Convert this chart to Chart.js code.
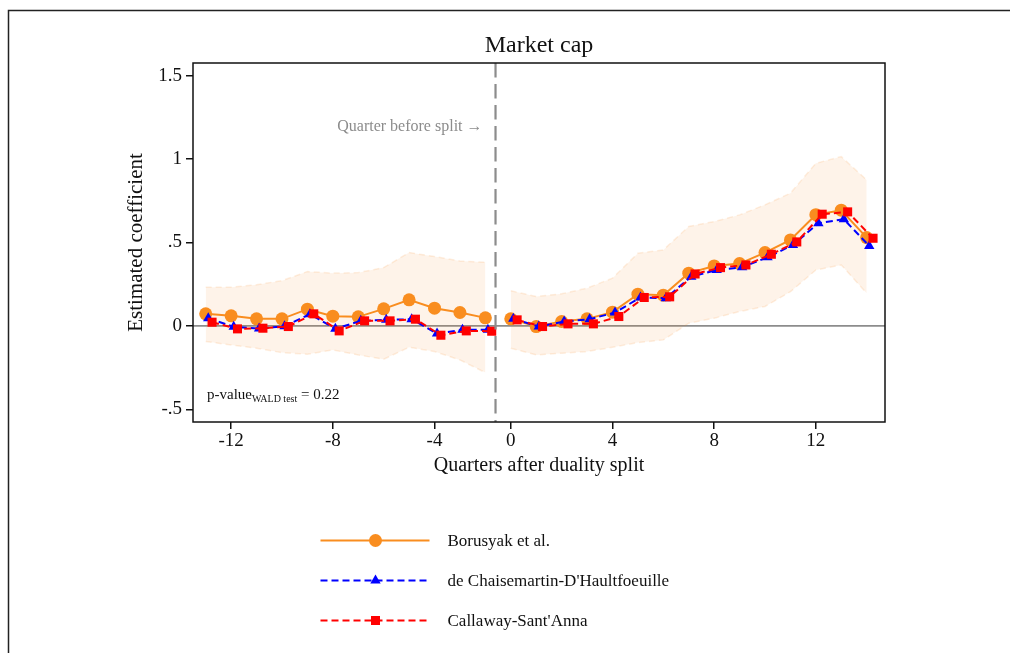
<!DOCTYPE html>
<html>
<head>
<meta charset="utf-8">
<script src="https://cdn.jsdelivr.net/npm/chart.js@4/dist/chart.umd.min.js"></script>
<style>
  body { margin: 0; background: #fff; }
  #wrap { width: 1010px; height: 653px; position: relative; }
</style>
</head>
<body>
<div id="wrap"><canvas id="eventChart"></canvas></div>
<script>
// relative quarters (quarter -1 is the reference period and is left out)
const preQuarters = [-13, -12, -11, -10, -9, -8, -7, -6, -5, -4, -3, -2];
const postQuarters = [0, 1, 2, 3, 4, 5, 6, 7, 8, 9, 10, 11, 12, 13, 14];
const tickQuarters = [-12, -8, -4, 0, 4, 8, 12];
const yTicks = [-0.5, 0, 0.5, 1, 1.5];

// Borusyak et al.
const borusyakPre = [0.072, 0.060, 0.042, 0.042, 0.100, 0.058, 0.054, 0.102, 0.156, 0.106, 0.080, 0.048];
const borusyakPost = [0.042, -0.004, 0.026, 0.042, 0.082, 0.190, 0.184, 0.316, 0.359, 0.373, 0.439, 0.515, 0.666, 0.693, 0.529];
// confidence band of Borusyak et al.
const upperPre = [0.232, 0.232, 0.246, 0.271, 0.325, 0.316, 0.319, 0.349, 0.439, 0.415, 0.389, 0.381];
const lowerPre = [-0.094, -0.114, -0.134, -0.160, -0.170, -0.144, -0.174, -0.200, -0.128, -0.154, -0.204, -0.280];
const upperPost = [0.210, 0.176, 0.192, 0.226, 0.286, 0.435, 0.455, 0.595, 0.625, 0.665, 0.725, 0.795, 0.974, 1.014, 0.874];
const lowerPost = [-0.134, -0.174, -0.164, -0.154, -0.128, -0.100, -0.084, 0.016, 0.046, 0.086, 0.116, 0.205, 0.335, 0.365, 0.196];
// de Chaisemartin-D'Haultfoeuille
const dcdhPre = [0.046, -0.006, -0.016, -0.002, 0.070, -0.018, 0.030, 0.036, 0.040, -0.046, -0.024, -0.024];
const dcdhPost = [0.042, -0.004, 0.026, 0.040, 0.080, 0.170, 0.166, 0.295, 0.335, 0.351, 0.411, 0.485, 0.615, 0.639, 0.479];
// Callaway-Sant'Anna
const csPre = [0.022, -0.018, -0.014, -0.004, 0.072, -0.030, 0.030, 0.030, 0.040, -0.056, -0.030, -0.032];
const csPost = [0.036, -0.004, 0.012, 0.012, 0.056, 0.170, 0.174, 0.311, 0.349, 0.365, 0.429, 0.503, 0.669, 0.683, 0.525];

const quarters = preQuarters.concat(postQuarters);
const splitPos = 11.4;   // where the "quarter before split" line sits on the index axis
const serif = "'Liberation Serif', 'DejaVu Serif', serif";
const orange = '#f98d1f';

// pre and post pieces on one index axis, with a break between them
function series(pre, post, shift) {
    const pts = pre.map((v, i) => ({ x: i + shift, y: v }));
    pts.push({ x: pre.length - 0.5 + shift, y: null });
    post.forEach((v, i) => pts.push({ x: pre.length + i + shift, y: v }));
    return pts;
}

function marker(ctx, style, x, y, r, color) {
    ctx.save();
    ctx.setLineDash([]);
    ctx.fillStyle = color;
    ctx.beginPath();
    if (style === 'circle') {
        ctx.arc(x, y, r, 0, Math.PI * 2);
    } else if (style === 'triangle') {
        ctx.moveTo(x, y - r);
        ctx.lineTo(x + r * 0.866, y + r * 0.5);
        ctx.lineTo(x - r * 0.866, y + r * 0.5);
        ctx.closePath();
    } else {
        const s = r * Math.SQRT1_2;
        ctx.rect(x - s, y - s, 2 * s, 2 * s);
    }
    ctx.fill();
    ctx.restore();
}

const legendItems = [
    { label: 'Borusyak et al.', color: orange, dash: [], style: 'circle', r: 6.5 },
    { label: "de Chaisemartin-D'Haultfoeuille", color: '#0000ff', dash: [7, 4], style: 'triangle', r: 6 },
    { label: "Callaway-Sant'Anna", color: '#ff0000', dash: [7, 4], style: 'rect', r: 6.4 }
];

const decor = {
    id: 'decor',
    beforeDraw(chart) {
        const ctx = chart.ctx;
        ctx.save();
        ctx.fillStyle = '#fff';
        ctx.fillRect(0, 0, chart.width, chart.height);
        ctx.strokeStyle = '#222';
        ctx.lineWidth = 1.5;
        ctx.beginPath();
        ctx.moveTo(8.5, chart.height);
        ctx.lineTo(8.5, 10.5);
        ctx.lineTo(chart.width, 10.5);
        ctx.stroke();
        ctx.restore();
    },
    beforeDatasetsDraw(chart) {
        const ctx = chart.ctx, a = chart.chartArea;
        const y0 = chart.scales.y.getPixelForValue(0);
        ctx.save();
        ctx.strokeStyle = '#8c8c8c';
        ctx.lineWidth = 1.6;
        ctx.beginPath();
        ctx.moveTo(a.left, y0);
        ctx.lineTo(a.right, y0);
        ctx.stroke();
        ctx.restore();
    },
    afterDatasetsDraw(chart) {
        const ctx = chart.ctx, a = chart.chartArea;
        const xs = chart.scales.x.getPixelForValue(splitPos);
        ctx.save();
        // quarter before split
        ctx.strokeStyle = '#8c8c8c';
        ctx.lineWidth = 2.2;
        ctx.setLineDash([14.5, 6.5]);
        ctx.beginPath();
        ctx.moveTo(xs, a.top);
        ctx.lineTo(xs, a.bottom);
        ctx.stroke();
        ctx.setLineDash([]);
        ctx.fillStyle = '#8c8c8c';
        ctx.font = '16px ' + serif;
        ctx.textAlign = 'right';
        ctx.textBaseline = 'middle';
        ctx.fillText('Quarter before split \u2192', xs - 13, 127);

        // plot box
        ctx.strokeStyle = '#111';
        ctx.lineWidth = 1.5;
        ctx.strokeRect(a.left, a.top, a.right - a.left, a.bottom - a.top);

        // wald test note
        ctx.fillStyle = '#111';
        ctx.textAlign = 'left';
        ctx.textBaseline = 'alphabetic';
        let px = a.left + 14;
        ctx.font = '15px ' + serif;
        ctx.fillText('p-value', px, 399);
        px += ctx.measureText('p-value').width;
        ctx.font = '10px ' + serif;
        ctx.fillText('WALD test', px, 402);
        px += ctx.measureText('WALD test').width;
        ctx.font = '15px ' + serif;
        ctx.fillText(' = 0.22', px, 399);

        // legend
        legendItems.forEach((it, i) => {
            const y = 540.5 + i * 40;
            ctx.strokeStyle = it.color;
            ctx.lineWidth = 2;
            ctx.setLineDash(it.dash);
            ctx.beginPath();
            ctx.moveTo(320.5, y);
            ctx.lineTo(429.5, y);
            ctx.stroke();
            marker(ctx, it.style, 375.5, y, it.r, it.color);
            ctx.fillStyle = '#111';
            ctx.font = '17px ' + serif;
            ctx.textBaseline = 'middle';
            ctx.fillText(it.label, 447.5, y + 1);
        });
        ctx.restore();
    }
};

const bandFill = 'rgba(250, 140, 40, 0.1)';
const bandEdge = 'rgba(250, 140, 40, 0.14)';

const config = {
    type: 'line',
    data: {
        datasets: [
            {
                label: 'upper', data: series(upperPre, upperPost, 0),
                borderColor: bandEdge, borderWidth: 1.5, borderDash: [6, 4],
                backgroundColor: bandFill, fill: '+1', pointRadius: 0, order: 10
            },
            {
                label: 'lower', data: series(lowerPre, lowerPost, 0),
                borderColor: bandEdge, borderWidth: 1.5, borderDash: [6, 4],
                fill: false, pointRadius: 0, order: 11
            },
            {
                label: 'Borusyak et al.', data: series(borusyakPre, borusyakPost, 0),
                borderColor: orange, backgroundColor: orange, borderWidth: 2,
                pointStyle: 'circle', pointRadius: 6.5, pointBorderWidth: 0, order: 3
            },
            {
                label: "de Chaisemartin-D'Haultfoeuille", data: series(dcdhPre, dcdhPost, 0.1),
                borderColor: '#0000ff', backgroundColor: '#0000ff', borderWidth: 2, borderDash: [7, 4],
                pointStyle: 'triangle', pointRadius: 6, pointBorderWidth: 0, order: 2
            },
            {
                label: "Callaway-Sant'Anna", data: series(csPre, csPost, 0.25),
                borderColor: '#ff0000', backgroundColor: '#ff0000', borderWidth: 2, borderDash: [7, 4],
                pointStyle: 'rect', pointRadius: 6.4, pointBorderWidth: 0, order: 1
            }
        ]
    },
    options: {
        responsive: true,
        maintainAspectRatio: false,
        animation: false,
        layout: { padding: { left: 113, right: 125, top: 20, bottom: 171 } },
        plugins: {
            legend: { display: false },
            tooltip: { enabled: false },
            title: {
                display: true,
                text: 'Market cap',
                fullSize: false,
                color: '#111',
                font: { family: serif, size: 24, weight: 'normal', lineHeight: 1.2 },
                padding: { top: 11, bottom: 3.2 }
            }
        },
        scales: {
            x: {
                type: 'linear',
                min: -0.5,
                max: 26.72,
                afterFit: (scale) => { scale.height = 60; },
                afterBuildTicks: (scale) => {
                    scale.ticks = tickQuarters.map(q => ({ value: quarters.indexOf(q) }));
                },
                grid: { drawOnChartArea: false, drawTicks: true, tickLength: 7, color: '#111', lineWidth: 1.5 },
                border: { display: false },
                ticks: {
                    color: '#111',
                    padding: 1,
                    maxRotation: 0,
                    font: { family: serif, size: 19 },
                    callback: (v) => String(quarters[v])
                },
                title: {
                    display: true,
                    text: 'Quarters after duality split',
                    color: '#111',
                    font: { family: serif, size: 20, lineHeight: 1.2 },
                    padding: { top: 0, bottom: 4.5 }
                }
            },
            y: {
                min: -0.576,
                max: 1.575,
                afterFit: (scale) => { scale.width = 80; },
                afterBuildTicks: (scale) => {
                    scale.ticks = yTicks.map(v => ({ value: v }));
                },
                grid: { drawOnChartArea: false, drawTicks: true, tickLength: 7, color: '#111', lineWidth: 1.5 },
                border: { display: false },
                ticks: {
                    color: '#111',
                    padding: 4,
                    font: { family: serif, size: 19 },
                    callback: (v) => v === 0 ? '0' : (v < 0 ? '-' : '') + String(Math.abs(v)).replace(/^0/, '')
                },
                title: {
                    display: true,
                    text: 'Estimated coefficient',
                    color: '#111',
                    font: { family: serif, size: 21, lineHeight: 1.2 },
                    padding: { top: 10.7, bottom: 0 }
                }
            }
        }
    },
    plugins: [decor]
};

const eventChart = new Chart(document.getElementById('eventChart'), config);
</script>
</body>
</html>
